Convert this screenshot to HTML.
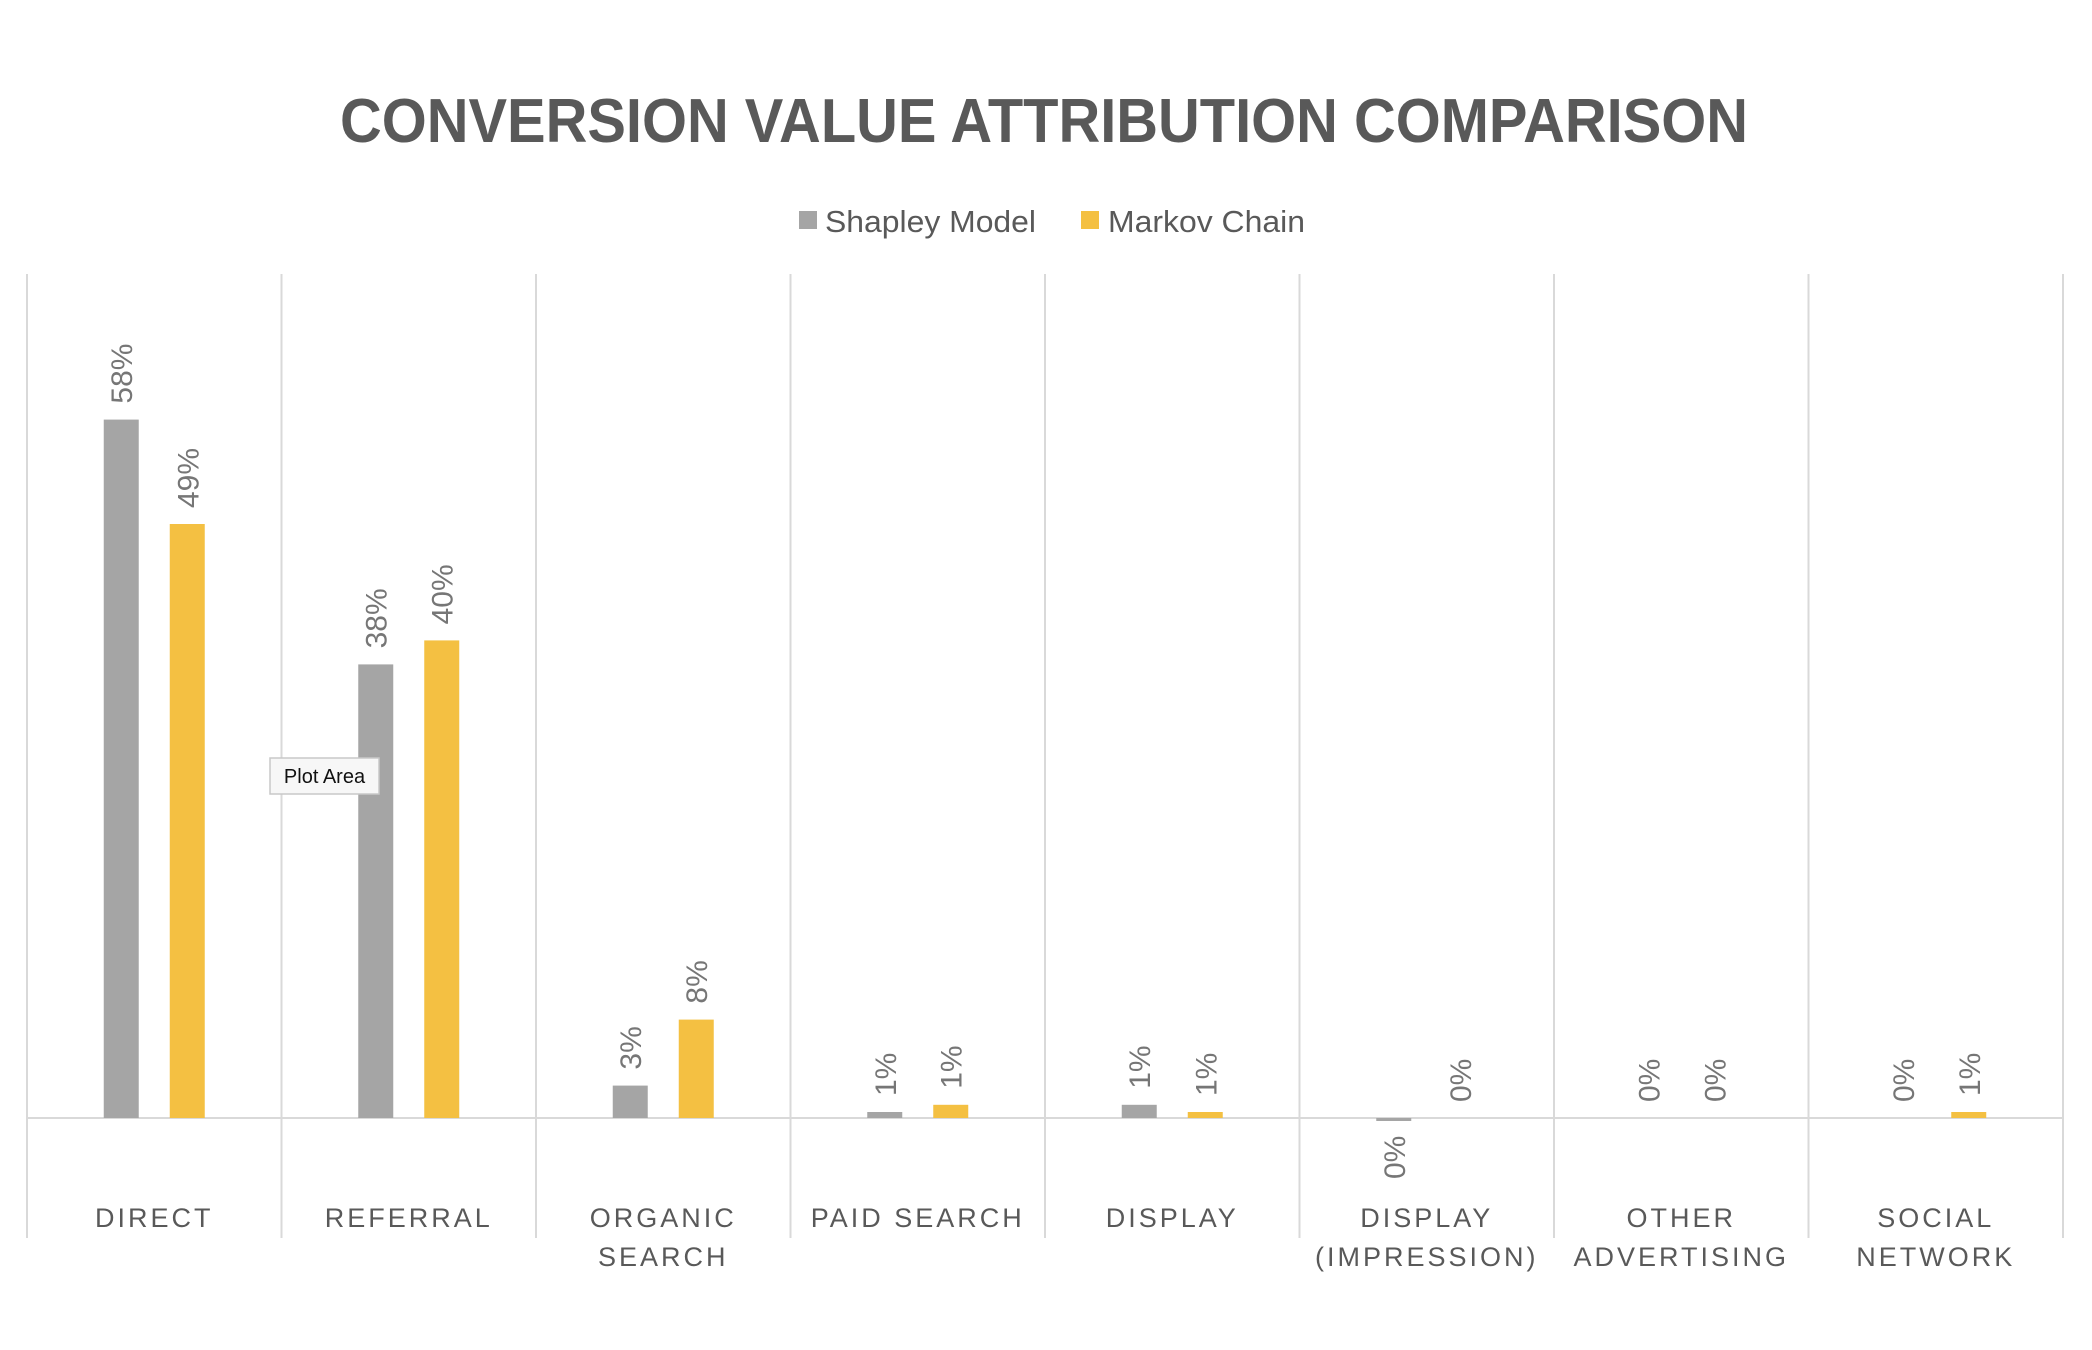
<!DOCTYPE html>
<html><head><meta charset="utf-8"><style>
html,body{margin:0;padding:0;background:#fff;}
svg{display:block;font-family:"Liberation Sans",sans-serif;}
</style></head><body>
<svg id="chart" width="2092" height="1350" viewBox="0 0 2092 1350" xmlns="http://www.w3.org/2000/svg">
<text x="1044" y="142" text-anchor="middle" font-size="62" font-weight="bold" fill="#595959" textLength="1408" lengthAdjust="spacingAndGlyphs">CONVERSION VALUE ATTRIBUTION COMPARISON</text>
<g>
<rect x="799" y="211" width="18" height="18" fill="#a5a5a5"/>
<text x="825" y="232" font-size="31" fill="#595959" textLength="211" lengthAdjust="spacingAndGlyphs">Shapley Model</text>
<rect x="1081" y="211" width="18" height="18" fill="#f4c042"/>
<text x="1108" y="232" font-size="31" fill="#595959" textLength="197" lengthAdjust="spacingAndGlyphs">Markov Chain</text>
</g>
<g id="grid"></g>
<g id="bars"></g>
<g id="cats"></g>
<g>
<rect x="270" y="758" width="109" height="36" fill="#f7f7f7" stroke="#c8c8c8" stroke-width="1.5"/>
<text x="324.5" y="783" text-anchor="middle" font-size="20" fill="#111">Plot Area</text>
</g>
</svg>
<script>
const categories = [["DIRECT"],["REFERRAL"],["ORGANIC","SEARCH"],["PAID SEARCH"],["DISPLAY"],["DISPLAY","(IMPRESSION)"],["OTHER","ADVERTISING"],["SOCIAL","NETWORK"]];
const shapleyValues = [58.2, 37.8, 2.7, 0.5, 1.1, -0.2, 0, 0];
const markovValues = [49.5, 39.8, 8.2, 1.1, 0.5, 0, 0, 0.5];
const shapleyLabels = ["58%","38%","3%","1%","1%","0%","0%","0%"];
const markovLabels = ["49%","40%","8%","1%","1%","0%","0%","1%"];

const NS = "http://www.w3.org/2000/svg";
const plotLeft = 27, plotRight = 2063, baseY = 1118, pxPerPct = 12.0;
const band = (plotRight - plotLeft) / categories.length;
function xCenter(i){ return plotLeft + band * (i + 0.5); }
function yScale(v){ return baseY - v * pxPerPct; }
function mk(tag, attrs, parent){ const e = document.createElementNS(NS, tag); for (const k in attrs) e.setAttribute(k, attrs[k]); parent.appendChild(e); return e; }

const grid = document.getElementById('grid');
for (let i = 0; i <= categories.length; i++) {
  const x = plotLeft + band * i;
  const l = mk('line', {x1:x, x2:x, y1:274, y2:1238, stroke:'#d9d9d9', 'stroke-width':2}, grid);
  
  
}
const axis = mk('line', {x1:plotLeft, x2:plotRight, y1:baseY, y2:baseY, stroke:'#d9d9d9', 'stroke-width':2}, grid);



const bars = document.getElementById('bars');
const cats = document.getElementById('cats');
const barW = 35, off = 33;
function drawBar(i, v, label, dx, color, series){
  const cx = xCenter(i) + dx;
  const y0 = yScale(Math.max(v, 0)), y1 = yScale(Math.min(v, 0));
  const h = Math.max(y1 - y0, v === 0 ? 0 : 3);
  const r = mk('rect', {x:cx - barW/2, y:v < 0 ? baseY : y0, width:barW, height:h, fill:color}, bars);
  
  
  const ty = v < 0 ? baseY + h + 58 : y0 - 16;
  const tx = cx + 11;
  const t = mk('text', {x:tx, y:ty, 'font-size':30, fill:'#767676', transform:'rotate(-90 ' + tx + ' ' + ty + ')'}, bars);
  t.textContent = label;
  
  
}
categories.forEach((c, i) => {
  drawBar(i, shapleyValues[i], shapleyLabels[i], -off, '#a5a5a5', 'shapley');
  drawBar(i, markovValues[i], markovLabels[i], off, '#f4c042', 'markov');
  c.forEach((line, j) => {
    const t = mk('text', {x:xCenter(i), y:1227 + j*39, 'text-anchor':'middle', 'font-size':27, fill:'#595959', 'letter-spacing':'3'}, cats);
    t.textContent = line;
    
    
  });
});
</script>
</body></html>
